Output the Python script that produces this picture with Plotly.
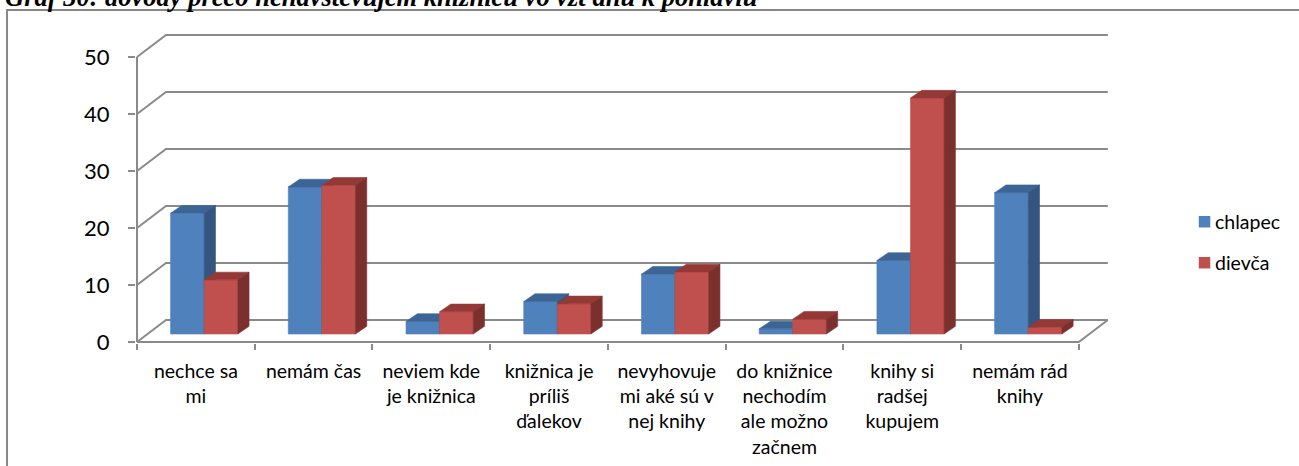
import plotly.graph_objects as go

# --- data -------------------------------------------------------------
categories = [
    "nechce sa<br>mi",
    "nemám čas",
    "neviem kde<br>je knižnica",
    "knižnica je<br>príliš<br>ďalekov",
    "nevyhovuje<br>mi aké sú v<br>nej knihy",
    "do knižnice<br>nechodím<br>ale možno<br>začnem",
    "knihy si<br>radšej<br>kupujem",
    "nemám rád<br>knihy",
]
chlapec = [21.2, 25.8, 2.2, 5.7, 10.5, 0.9, 12.9, 24.8]
dievca = [9.5, 26.1, 3.9, 5.3, 10.9, 2.6, 41.4, 1.2]
series_names = ["chlapec", "dievča"]
y_ticks = [0, 10, 20, 30, 40, 50]
title_text = "Graf 30: dôvody prečo nenavštevujem knižnicu vo vzťahu k pohlaviu"

# --- styling ----------------------------------------------------------
W, H = 1299, 466
PX_X = 117.75          # pixels per category slot
PX_Y = 5.7             # pixels per value unit
GRID = "#8a8a8a"
FONT = "Lato"

# face colours per series: front, top, side
faces = [
    ("#4F81BD", "#3C6595", "#33557F"),
    ("#C0504D", "#953937", "#7C302E"),
]

# oblique depth of the back wall and of the bars (axis units)
WALL_DX, WALL_DY = 29 / PX_X, 22 / PX_Y
FRONT_DX, FRONT_DY = 8.3 / PX_X, 8 / PX_Y
BAR_DX, BAR_DY = 11.3 / PX_X, 7.7 / PX_Y
BAR_W = 33.6 / PX_X

n = len(categories)
x_range = [-1 / PX_X, 8.35]
y_range = [-1 / PX_Y, 56.5]

left = 136
plot_w = (x_range[1] - x_range[0]) * PX_X
right = W - left - plot_w
bottom = 466 - 343
plot_h = (y_range[1] - y_range[0]) * PX_Y
top = H - bottom - plot_h


def paper_x(px):
    return (px - left) / plot_w


def paper_y(py):
    return (H - bottom - py) / plot_h


fig = go.Figure()

# --- walls and floor --------------------------------------------------
wx, wy = [], []
for t in y_ticks:
    wx += [0, WALL_DX, n + WALL_DX, None]
    wy += [t, t + WALL_DY, t + WALL_DY, None]
wx += [0, n, n + WALL_DX, None, 0, 0]
wy += [0, 0, WALL_DY, None, 0, y_ticks[-1]]
fig.add_trace(go.Scatter(x=wx, y=wy, mode="lines",
                         line=dict(color=GRID, width=2),
                         hoverinfo="skip", showlegend=False))

# --- 3D bars ------------------------------------------------------------
for s, values in enumerate([chlapec, dievca]):
    fx, fy, tx, ty, sx, sy = [], [], [], [], [], []
    for i, v in enumerate(values):
        c = i + 0.5 + FRONT_DX
        xl = c - BAR_W if s == 0 else c
        xr = xl + BAR_W
        b0 = FRONT_DY
        b1 = FRONT_DY + v
        fx += [xl, xr, xr, xl, xl, None]
        fy += [b0, b0, b1, b1, b0, None]
        tx += [xl, xr, xr + BAR_DX, xl + BAR_DX, xl, None]
        ty += [b1, b1, b1 + BAR_DY, b1 + BAR_DY, b1, None]
        sx += [xr, xr + BAR_DX, xr + BAR_DX, xr, xr, None]
        sy += [b0, b0 + BAR_DY, b1 + BAR_DY, b1, b0, None]
    front_c, top_c, side_c = faces[s]
    for px_, py_, col in [(fx, fy, front_c), (tx, ty, top_c), (sx, sy, side_c)]:
        fig.add_trace(go.Scatter(x=px_, y=py_, mode="lines", fill="toself",
                                 fillcolor=col, line=dict(color=col, width=0.6),
                                 name=series_names[s], hoverinfo="skip",
                                 showlegend=False))

# --- legend -------------------------------------------------------------
legend_rows = [221.7, 262.7]
for s, name in enumerate(series_names):
    cy = legend_rows[s]
    fig.add_shape(type="rect", xref="paper", yref="paper",
                  x0=paper_x(1199), x1=paper_x(1210.5),
                  y0=paper_y(cy + 5.75), y1=paper_y(cy - 5.75),
                  fillcolor=faces[s][0], line=dict(width=0))
    fig.add_annotation(text=name, xref="paper", yref="paper",
                       x=paper_x(1213), y=paper_y(cy), xanchor="left",
                       yanchor="middle", showarrow=False,
                       font=dict(family=FONT, size=19.5, color="black"))

# --- frame and clipped caption -------------------------------------------
fig.add_shape(type="rect", xref="paper", yref="paper",
              x0=paper_x(7), x1=paper_x(1310), y0=paper_y(480), y1=paper_y(10),
              line=dict(color="#878787", width=2), fillcolor="rgba(0,0,0,0)")
fig.add_annotation(text="<b><i>" + title_text + "</i></b>", xref="paper", yref="paper",
                   x=paper_x(3), y=paper_y(14), xanchor="left", yanchor="bottom",
                   showarrow=False,
                   font=dict(family="Liberation Serif", size=26.5, color="black"))

fig.update_layout(
    width=W, height=H,
    margin=dict(l=left, r=right, t=top, b=bottom, pad=0, autoexpand=False),
    paper_bgcolor="white", plot_bgcolor="white",
    showlegend=False,
    xaxis=dict(range=x_range, tickmode="array", automargin=False,
               tickvals=[i + 0.5 for i in range(n)], ticktext=categories,
               ticks="", showgrid=False, zeroline=False, showline=False,
               tickfont=dict(family=FONT, size=19.5, color="black"),
               ticklabelstandoff=14,
               minor=dict(tickmode="array", tickvals=list(range(n + 1)),
                          ticks="outside", ticklen=6, tickwidth=2,
                          tickcolor=GRID, showgrid=False)),
    yaxis=dict(range=y_range, tickmode="array", tickvals=y_ticks, automargin=False,
               ticks="outside", ticklen=7, tickwidth=2, tickcolor=GRID,
               showgrid=False, zeroline=False, showline=False,
               tickfont=dict(family=FONT, size=22, color="black"),
               ticklabelstandoff=14),
)

fig.write_html("out.html")
